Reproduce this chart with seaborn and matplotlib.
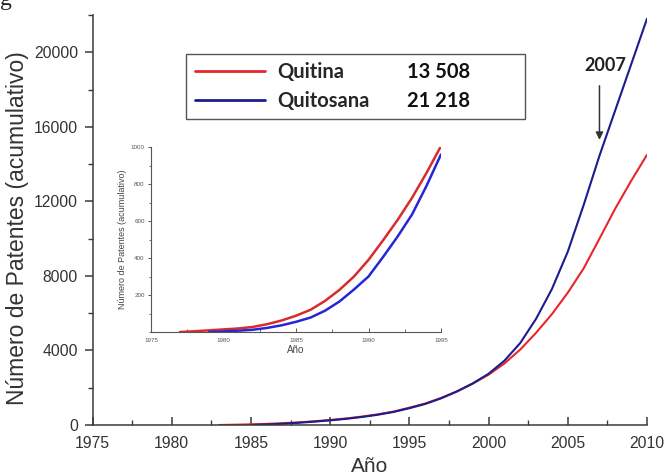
import matplotlib
matplotlib.use("Agg")
import matplotlib.pyplot as plt
from matplotlib.lines import Line2D
from matplotlib.ticker import MultipleLocator, FixedLocator
import seaborn as sns
import pandas as pd

# ---------------- data ----------------
quitina_years = list(range(1983, 2011))
quitina_vals = [0, 15, 35, 60, 95, 140, 200, 270, 350, 450, 570, 720, 930, 1150,
                1450, 1800, 2220, 2700, 3300, 4050, 4950, 5950, 7100, 8400,
                10000, 11620, 13100, 14500]

quitosana_years = list(range(1985, 2011))
quitosana_vals = [0, 30, 70, 120, 180, 250, 330, 430, 550, 700, 900, 1130, 1430,
                  1800, 2230, 2750, 3450, 4400, 5700, 7300, 9300, 11800, 14450,
                  16900, 19350, 21800]

inset_quitina_years = list(range(1977, 1996))
inset_quitina_vals = [0, 4, 9, 14, 19, 27, 42, 62, 88, 120, 168, 228, 300, 390,
                      495, 605, 725, 860, 1005]

inset_quitosana_years = list(range(1979, 1996))
inset_quitosana_vals = [0, 3, 7, 12, 22, 36, 55, 78, 115, 165, 230, 300, 405, 515,
                        635, 790, 960]

series_names = ["Quitina", "Quitosana"]
series_totals = ["13 508", "21 218"]
main_yticks = [0, 4000, 8000, 12000, 16000, 20000]
main_xticks = [1975, 1980, 1985, 1990, 1995, 2000, 2005, 2010]
inset_yticks = [200, 400, 600, 800, 1000]
inset_xticks = [1975, 1980, 1985, 1990, 1995]
arrow_year = 2007
arrow_tip = 15300
arrow_tail = 18200
arrow_label = "2007"

main_df = pd.concat([
    pd.DataFrame({"Año": quitina_years, "Patentes": quitina_vals, "Serie": series_names[0]}),
    pd.DataFrame({"Año": quitosana_years, "Patentes": quitosana_vals, "Serie": series_names[1]}),
])
inset_df = pd.concat([
    pd.DataFrame({"Año": inset_quitina_years, "Patentes": inset_quitina_vals, "Serie": series_names[0]}),
    pd.DataFrame({"Año": inset_quitosana_years, "Patentes": inset_quitosana_vals, "Serie": series_names[1]}),
])

# ---------------- style ----------------
sns.set_theme(style="ticks")
plt.rcParams["font.family"] = ["Liberation Sans", "DejaVu Sans"]

W, H = 667, 476
fig = plt.figure(figsize=(W / 100, H / 100), dpi=100)
fig.patch.set_facecolor("white")

def ax_rect(l, t, r, b):
    return [l / W, 1 - b / H, (r - l) / W, (b - t) / H]

axis_col = "#3a3a3a"
main_pal = {series_names[0]: "#e8262b", series_names[1]: "#1c1c8c"}
inset_pal = {series_names[0]: "#d92b2b", series_names[1]: "#2626d8"}

# ---------------- main axes ----------------
ax = fig.add_axes(ax_rect(92.5, 15, 647, 425))
ax.set_facecolor("white")
sns.lineplot(data=main_df, x="Año", y="Patentes", hue="Serie", palette=main_pal,
             linewidth=1.5, ax=ax, legend=False)
ax.set_xlim(1975, 2010)
ax.set_ylim(0, 22000)
ax.xaxis.set_major_locator(FixedLocator(main_xticks))
ax.xaxis.set_minor_locator(MultipleLocator(2.5))
ax.yaxis.set_major_locator(FixedLocator(main_yticks))
ax.yaxis.set_minor_locator(MultipleLocator(2000))
for s in ["top", "right"]:
    ax.spines[s].set_visible(False)
for s in ["left", "bottom"]:
    ax.spines[s].set_color(axis_col)
    ax.spines[s].set_linewidth(1.1)
ax.tick_params(axis="x", which="major", direction="in", length=6, width=1.1,
               color=axis_col, labelsize=11.3, labelcolor="#333333", pad=8)
ax.tick_params(axis="x", which="minor", direction="in", length=3.5, width=1.0, color=axis_col)
ax.tick_params(axis="y", which="major", direction="out", length=6, width=1.1,
               color=axis_col, labelsize=11.3, labelcolor="#333333", pad=4.5)
ax.tick_params(axis="y", which="minor", direction="out", length=3.5, width=1.0, color=axis_col)
ax.set_xlabel("Año", fontsize=15, color="#333333", labelpad=4)
ax.set_ylabel("Número de Patentes (acumulativo)", fontsize=16.5, color="#333333")
ax.yaxis.set_label_coords(-0.115, 0.48)

# arrow and label
ax.annotate("", xy=(arrow_year, arrow_tip), xytext=(arrow_year, arrow_tail),
            arrowprops=dict(arrowstyle="-|>", color="#333333", lw=1.1, mutation_scale=11,
                            shrinkA=0, shrinkB=0))
ax.text(arrow_year + 0.4, 19300, arrow_label, ha="center", va="center",
        fontsize=13, fontweight="bold", family=["Lato", "DejaVu Sans"], color="#222222")

# legend
handles = [Line2D([], [], color=main_pal[n], lw=2) for n in series_names]
leg = ax.legend(handles, series_names, loc="upper left",
                bbox_to_anchor=(0.169, 0.746, 0.611, 0.159), mode="expand",
                frameon=True, fancybox=False, borderaxespad=0,
                prop={"family": ["Lato", "DejaVu Sans"], "weight": "bold", "size": 14.5},
                handlelength=3.5, handletextpad=0.6, labelspacing=0.42,
                borderpad=0.42)
leg.get_frame().set_edgecolor("#555555")
leg.get_frame().set_linewidth(1.0)
leg.get_frame().set_facecolor("white")
leg.get_frame().set_alpha(1)

# ---------------- inset axes ----------------
axi = fig.add_axes(ax_rect(151, 147, 441, 332))
axi.set_facecolor("white")
sns.lineplot(data=inset_df, x="Año", y="Patentes", hue="Serie", palette=inset_pal,
             linewidth=1.8, ax=axi, legend=False)
axi.set_xlim(1975, 1995)
axi.set_ylim(0, 1000)
axi.xaxis.set_major_locator(FixedLocator(inset_xticks))
axi.xaxis.set_minor_locator(MultipleLocator(2.5))
axi.yaxis.set_major_locator(FixedLocator(inset_yticks))
axi.yaxis.set_minor_locator(MultipleLocator(100))
for s in ["top", "right"]:
    axi.spines[s].set_visible(False)
for s in ["left", "bottom"]:
    axi.spines[s].set_color("#555555")
    axi.spines[s].set_linewidth(0.8)
axi.tick_params(axis="x", which="major", direction="in", length=3, width=0.7,
                color="#555555", labelsize=4.5, labelcolor="#555555", pad=4)
axi.tick_params(axis="x", which="minor", direction="in", length=2, width=0.6, color="#555555")
axi.tick_params(axis="y", which="major", direction="out", length=2.5, width=0.7,
                color="#555555", labelsize=4.5, labelcolor="#555555", pad=2)
axi.tick_params(axis="y", which="minor", direction="out", length=1.5, width=0.6, color="#555555")
axi.set_xlabel("Año", fontsize=7, color="#444444", labelpad=2)
axi.set_ylabel("Número de Patentes (acumulativo)", fontsize=6.5, color="#444444", labelpad=3)

# numbers in legend rows
fig.canvas.draw()
inv = ax.transAxes.inverted()
for txt, total in zip(leg.get_texts(), series_totals):
    bb = txt.get_window_extent()
    cy = (bb.y0 + bb.y1) / 2
    _, ya = inv.transform((0, cy))
    ax.text(0.568, ya, total, transform=ax.transAxes, ha="left", va="center",
            fontsize=14.5, fontweight="bold", family=["Lato", "DejaVu Sans"],
            color="#111111", zorder=10)

# caption fragment at top-left
fig.text(0.0, 1 - 5 / H, "g", family=["Liberation Serif", "DejaVu Serif"],
         fontsize=17, va="baseline", ha="left", color="#222222")

fig.savefig("out.png", dpi=100, facecolor="white")
